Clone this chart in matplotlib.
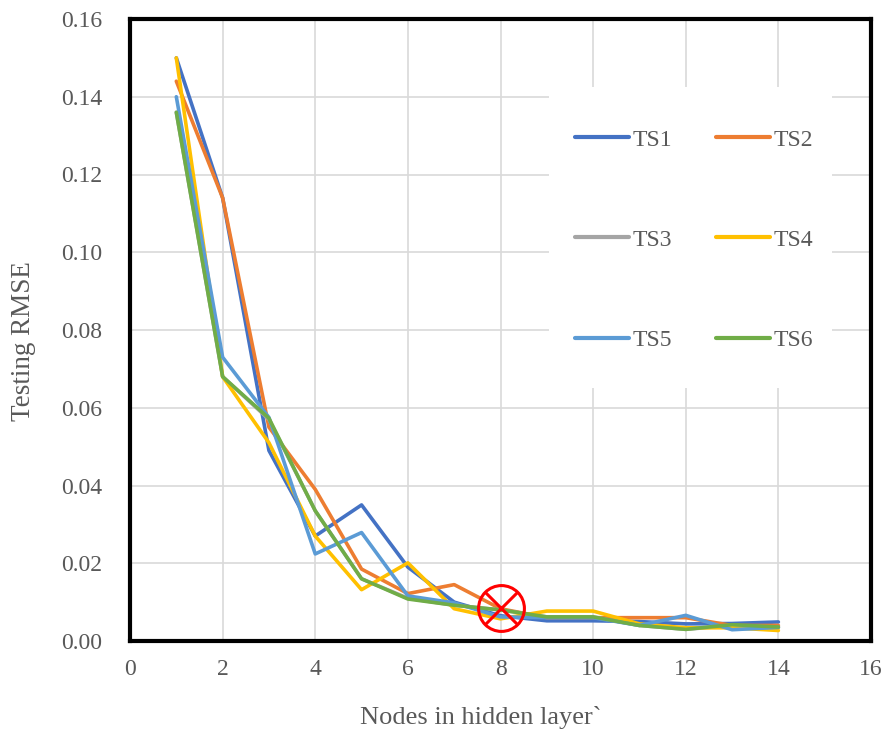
import matplotlib.pyplot as plt
from matplotlib.patches import Rectangle
import numpy as np

# hidden layer nodes
nodes = list(range(1, 15))

ts1 = [0.150, 0.114, 0.049, 0.027, 0.035, 0.019, 0.010, 0.0065, 0.0052, 0.0052, 0.0050, 0.0044, 0.0045, 0.0049]
ts2 = [0.144, 0.114, 0.055, 0.039, 0.0185, 0.0122, 0.0145, 0.0083, 0.0060, 0.0060, 0.0060, 0.0060, 0.0040, 0.0040]
ts3 = [0.136, 0.068, 0.057, 0.0335, 0.016, 0.011, 0.0092, 0.0080, 0.0062, 0.0062, 0.0040, 0.0030, 0.0040, 0.0035]
ts4 = [0.150, 0.068, 0.051, 0.027, 0.0132, 0.0201, 0.0083, 0.0057, 0.0077, 0.0077, 0.0044, 0.0034, 0.0034, 0.0027]
ts5 = [0.140, 0.073, 0.0575, 0.0224, 0.0279, 0.0116, 0.0098, 0.0062, 0.0060, 0.0060, 0.0040, 0.0066, 0.0029, 0.0035]
ts6 = [0.136, 0.068, 0.0573, 0.0335, 0.016, 0.0108, 0.0092, 0.0080, 0.0062, 0.0062, 0.0040, 0.0030, 0.0042, 0.0036]

labels = ['TS1', 'TS2', 'TS3', 'TS4', 'TS5', 'TS6']
colors = ['#4472C4', '#ED7D31', '#A5A5A5', '#FFC000', '#5B9BD5', '#70AD47']

# chosen point (red crossed circle)
best_x = 8
best_y = 0.0085

plt.rcParams['font.family'] = ['Liberation Serif', 'DejaVu Serif']

fig = plt.figure(figsize=(8.9, 7.32), dpi=100)
ax = fig.add_axes([130/890, 1-641/732, 741/890, 622/732])

series = [ts1, ts2, ts3, ts4, ts5, ts6]
handles = []
for vals, lab, col in zip(series, labels, colors):
    h, = ax.plot(nodes, vals, color=col, lw=2.6, label=lab, solid_capstyle='round', zorder=3)
    handles.append(h)

ax.plot([best_x], [best_y], marker='o', ms=33, mfc='none', mec='#FF0000', mew=2.2, ls='none', zorder=5)
ax.plot([best_x], [best_y], marker='x', ms=23, mec='#FF0000', mew=2.2, ls='none', zorder=5)

ax.set_xlim(0, 16)
ax.set_ylim(0, 0.16)
ax.set_xticks(np.arange(0, 17, 2))
ax.set_yticks(np.arange(0, 0.161, 0.02))
ax.set_yticklabels(['%.2f' % v for v in np.arange(0, 0.161, 0.02)])
ax.grid(True, color='#D9D9D9', lw=1.2, zorder=0)
ax.set_axisbelow(True)
ax.tick_params(length=0, labelsize=17, colors='#595959')
ax.tick_params(axis='y', pad=20)
ax.tick_params(axis='x', pad=13)
for s in ax.spines.values():
    s.set_color('black')
    s.set_linewidth(3)

ax.set_xlabel('Nodes in hidden layer`', fontsize=19, color='#595959')
ax.xaxis.set_label_coords(0.474, -0.104)
ax.set_ylabel('Testing RMSE', fontsize=19.5, color='#595959')
ax.yaxis.set_label_coords(-0.127, 0.482)

# white legend area (plot area gridlines hidden behind it)
ax.add_patch(Rectangle((0.5655, 0.4068), 0.3815, 0.4839, transform=ax.transAxes,
                       facecolor='white', edgecolor='none', zorder=1.5))

order = [0, 2, 4, 1, 3, 5]
leg = ax.legend([handles[i] for i in order], [labels[i] for i in order], ncol=2,
                loc='upper left', bbox_to_anchor=(575/890, 1-129/732),
                bbox_transform=fig.transFigure, borderaxespad=0, frameon=False,
                fontsize=17, handlelength=2.3, handletextpad=0.15, columnspacing=1.85,
                labelspacing=3.33, borderpad=0)
for t in leg.get_texts():
    t.set_color('#595959')
for h in leg.get_lines():
    h.set_linewidth(3)

fig.savefig('out.png', dpi=100)
